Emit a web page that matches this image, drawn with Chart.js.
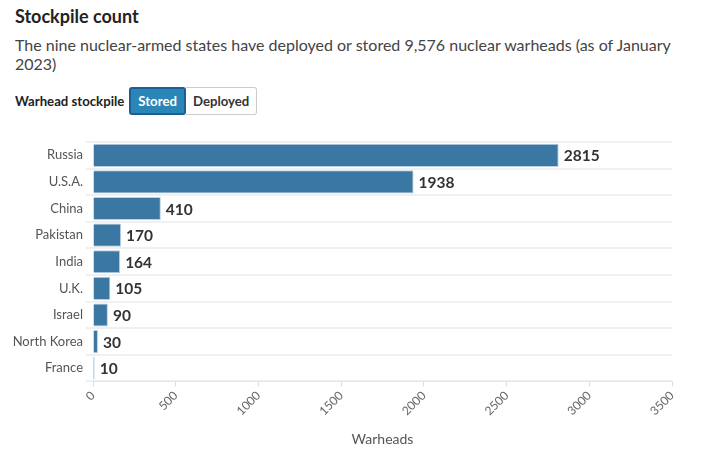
<!DOCTYPE html>
<html><head><meta charset="utf-8">
<script src="https://cdn.jsdelivr.net/npm/chart.js@4"></script>
<style>
body{margin:0;background:#fff;font-family:Lato,"Open Sans",sans-serif;width:709px;height:455px;overflow:hidden;position:relative;}
#title{position:absolute;left:15px;top:5px;font-size:18px;font-weight:bold;color:#222;}
#sub{position:absolute;left:15px;top:35px;width:660px;font-size:16px;line-height:19px;color:#444;}
#ctrl{position:absolute;left:15px;top:87px;display:flex;align-items:center;font-size:13.2px;font-weight:bold;color:#222;}
#ctrl .lab{margin-right:5px;}
.btn{height:26px;line-height:26px;padding:0 7px;border:1px solid #ccc;background:#fff;color:#333;}
.btn.on{background:#2b86b8;color:#fff;border:2px solid #1d5f94;height:24px;line-height:24px;border-radius:3px;}
.btn.off{border-left:none;border-radius:0 3px 3px 0;}
#wrap{position:absolute;left:0;top:130px;width:709px;height:325px;}
</style></head><body>
<div id="title">Stockpile count</div>
<div id="sub">The nine nuclear-armed states have deployed or stored 9,576 nuclear warheads (as of January 2023)</div>
<div id="ctrl"><span class="lab">Warhead stockpile</span><span class="btn on">Stored</span><span class="btn off">Deployed</span></div>
<div id="wrap"><canvas id="c" width="709" height="325"></canvas></div>
<script>
const countries = ["Russia","U.S.A.","China","Pakistan","India","U.K.","Israel","North Korea","France"];
const stored = [2815,1938,410,170,164,105,90,30,10];
const xTicks = [0,500,1000,1500,2000,2500,3000,3500];

const labelPlugin = {
  id:'vals',
  afterDatasetsDraw(chart){
    const ctx = chart.ctx;
    const meta = chart.getDatasetMeta(0);
    ctx.save();
    ctx.font = 'bold 15.5px Lato, "Open Sans", sans-serif';
    ctx.fillStyle = '#333';
    ctx.textBaseline = 'middle';
    meta.data.forEach((bar,i)=>{
      ctx.fillText(String(stored[i]), bar.x + 5, bar.y + 1);
    });
    ctx.restore();
  }
};

new Chart(document.getElementById('c'), {
  type:'bar',
  data:{labels:countries, datasets:[{data:stored, backgroundColor:'#3a77a2', borderColor:'#b9d0e1', borderWidth:1, borderSkipped:'start', categoryPercentage:1, barPercentage:0.87}]},
  options:{
    indexAxis:'y', responsive:false, animation:false,
    layout:{padding:{top:12, right:37, left:0, bottom:0}},
    plugins:{legend:{display:false}, tooltip:{enabled:false}},
    scales:{
      x:{min:0,max:3500,
        afterBuildTicks(s){ s.ticks = xTicks.map(v=>({value:v})); },
        afterFit(s){ s.height = 73.5; },
        grid:{display:true, drawOnChartArea:false, color:'#ddd', tickLength:5},
        border:{display:true,color:'#e6e6e6'},
        ticks:{minRotation:45,maxRotation:45,color:'#666',font:{family:'Lato',size:12},padding:2,callback:(v)=>String(v)},
        title:{display:true,text:'Warheads',color:'#555',font:{family:'Lato',size:14},padding:{top:4,bottom:7}}
      },
      y:{
        afterFit(s){ s.width = 93; },
        grid:{display:true,color:'#f0f0f0',lineWidth:2,tickLength:7},
        border:{display:false},
        ticks:{color:'#555',font:{family:'Lato',size:13},padding:3}
      }
    }
  },
  plugins:[labelPlugin]
});
</script>
</body></html>
